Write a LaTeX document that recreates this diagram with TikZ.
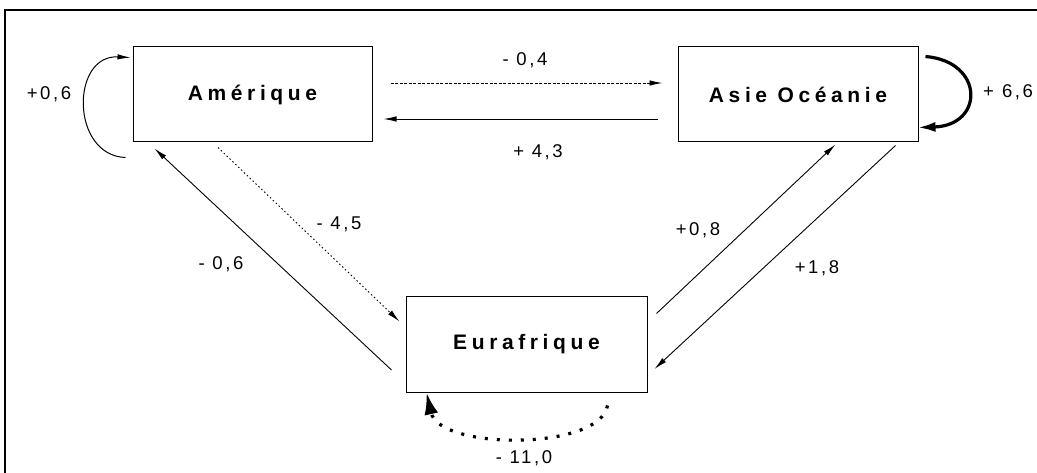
\documentclass[tikz,border=0pt]{standalone}
\usepackage{fontspec}
\setmainfont{Liberation Sans}
\newfontfamily\boxfont[LetterSpace=22]{Liberation Sans}
\newfontfamily\lblfont[LetterSpace=14]{Liberation Sans}
\usetikzlibrary{arrows.meta}
\tikzset{
  region/.style={draw, line width=1pt, minimum width=240pt, minimum height=95pt, inner sep=0pt,
    font=\boxfont\fontsize{21pt}{24pt}\selectfont\bfseries},
  lbl/.style={font=\lblfont\fontsize{18.5pt}{21pt}\selectfont, inner sep=0pt},
  flow/.style={line width=0.9pt, -{Latex[length=13pt,width=5.5pt]}},
  dashflow/.style={flow, dash pattern=on 3pt off 1.5pt},
  dotflow/.style={flow, dash pattern=on 1.5pt off 2.5pt},
  bigloop/.style={line width=3.2pt, -{Latex[length=18pt,width=10pt]}},
  dotloop/.style={line width=3.2pt, dash pattern=on 3pt off 9pt, -{Latex[length=22pt,width=14pt]}}
}
\begin{document}
\begin{tikzpicture}[x=1pt,y=-1pt]
\useasboundingbox (0,0) rectangle (1037,473);
\draw[line width=1.6pt] (5,10) rectangle (1050,490);

\node[region, minimum width=239pt] (am) at (252.5,94.5) {Amérique};
\node[region] (as) at (798,94.5) {Asie Océanie};
\node[region, minimum width=241pt] (eu) at (526.5,344.5) {Eurafrique};

% Amérique <-> Asie
\draw[dashflow] ([xshift=18pt,yshift=11.5pt]am.east) -- ([xshift=-15pt,yshift=11.5pt]as.west);
\draw[flow] ([xshift=-20pt,yshift=-24.5pt]as.west) -- ([xshift=11pt,yshift=-24.5pt]am.east);

% self loops
\draw[flow, line width=1pt] ([xshift=-7pt,yshift=-15pt]am.south west)
   .. controls +(-55,-2) and +(-60,-3) .. ([xshift=-2pt,yshift=-11pt]am.north west);
\draw[bigloop] ([xshift=7pt,yshift=-10pt]as.north east)
   .. controls +(59,5) and +(67,-2) .. ([xshift=-1pt,yshift=15pt]as.south east);
\draw[dotloop] ([xshift=-40pt,yshift=-13pt]eu.south east)
   .. controls +(-7,45) and +(13,58) .. ([xshift=21pt]eu.south west);

% Amérique <-> Eurafrique
\draw[flow] ([xshift=-14pt,yshift=-25.5pt]eu.west) -- ([xshift=22pt,yshift=-6pt]am.south west);
\draw[dotflow] ([xshift=-34.5pt,yshift=-5pt]am.south) -- ([xshift=-6pt,yshift=-25pt]eu.north west);

% Asie <-> Eurafrique
\draw[flow] ([xshift=9pt,yshift=-17pt]eu.north east) -- ([xshift=-83pt,yshift=-2pt]as.south east);
\draw[flow] ([xshift=-23pt,yshift=-3pt]as.south east) -- ([xshift=7pt,yshift=-24.5pt]eu.east);

% labels
\node[lbl] (l1) at (525,60) {- 0,4};
\node[lbl] (l2) at (538,152) {+ 4,3};
\node[lbl] (l3) at (49,94) {+0,6};
\node[lbl, anchor=west] (l4) at (983,92) {+\hspace{8pt}6,6};
\node[lbl] (l5) at (339,224) {- 4,5};
\node[lbl] (l6) at (221,264) {- 0,6};
\node[lbl] (l7) at (698,230) {+0,8};
\node[lbl] (l8) at (817,268) {+1,8};
\node[lbl] (l9) at (524,458) {- 11,0};
\end{tikzpicture}
\end{document}
